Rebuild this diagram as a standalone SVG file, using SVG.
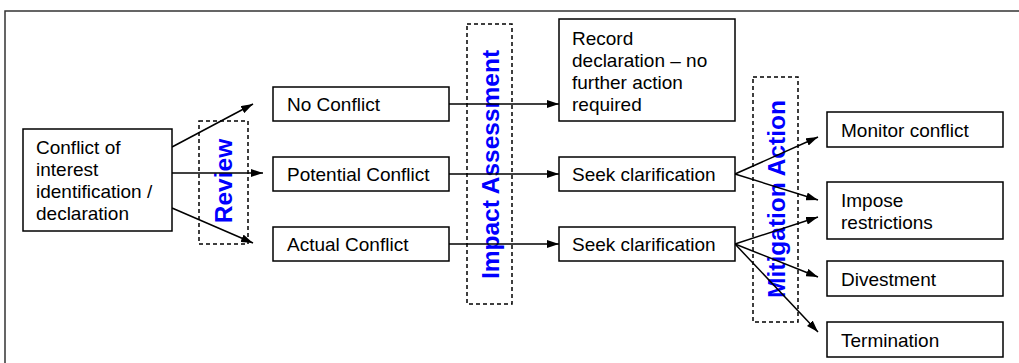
<svg xmlns="http://www.w3.org/2000/svg" width="1019" height="363" viewBox="0 0 1019 363">
<style>
.box{fill:#fff;stroke:#000;stroke-width:1.5}
.dash{fill:none;stroke:#000;stroke-width:1.5;stroke-dasharray:4,3}
.t{font-family:"Liberation Sans",Arial,sans-serif;font-size:19px;fill:#000}
.lbl{font-family:"Liberation Sans",Arial,sans-serif;font-size:24.5px;font-weight:bold;fill:#0000ff;text-anchor:middle}
.con line{stroke:#000;stroke-width:1.5;marker-end:url(#ah)}
</style>
<defs>
<marker id="ah" viewBox="0 0 12 8" markerWidth="12" markerHeight="8" refX="12" refY="4" orient="auto" markerUnits="userSpaceOnUse">
<path d="M0,0 L12,4 L0,8 z" fill="#000"/>
</marker>
</defs>
<rect width="1019" height="363" fill="#fff"/>
<path d="M5,363 V11 H1019" fill="none" stroke="#333" stroke-width="1.5"/>

<g id="phases">
<g id="review"><rect class="dash" x="199" y="121" width="49" height="123"/><text class="lbl" transform="translate(232,181) rotate(-90)">Review</text></g>
<g id="impact"><rect class="dash" x="467" y="24" width="45" height="280"/><text class="lbl" transform="translate(499,164.5) rotate(-90)">Impact Assessment</text></g>
<g id="mitigation"><rect class="dash" x="753" y="77" width="45" height="245"/><text class="lbl" transform="translate(785,199) rotate(-90)">Mitigation Action</text></g>
</g>

<g id="connectors" class="con">
<line x1="172" y1="147" x2="253" y2="104"/>
<line x1="172" y1="173" x2="263" y2="173"/>
<line x1="172" y1="208" x2="253" y2="243"/>
<line x1="449" y1="104" x2="559" y2="104"/>
<line x1="449" y1="174" x2="559" y2="174"/>
<line x1="449" y1="244" x2="559" y2="244"/>
<line x1="735" y1="174" x2="818" y2="137"/>
<line x1="735" y1="174" x2="818" y2="200"/>
<line x1="735" y1="244" x2="818" y2="217"/>
<line x1="735" y1="244" x2="818" y2="277"/>
<line x1="735" y1="244" x2="818" y2="332"/>
</g>

<g id="source"><rect class="box" x="23" y="129" width="149" height="102"/>
<text class="t" x="36" y="154">Conflict of</text>
<text class="t" x="36" y="176">interest</text>
<text class="t" x="36" y="197.5">identification /</text>
<text class="t" x="36" y="219.5">declaration</text></g>

<g id="no-conflict"><rect class="box" x="273" y="87" width="176" height="34"/><text class="t" x="287" y="111">No Conflict</text></g>
<g id="potential-conflict"><rect class="box" x="273" y="157" width="176" height="34"/><text class="t" x="287" y="181">Potential Conflict</text></g>
<g id="actual-conflict"><rect class="box" x="273" y="227" width="176" height="34"/><text class="t" x="287" y="251">Actual Conflict</text></g>

<g id="record"><rect class="box" x="559" y="19" width="176" height="102"/>
<text class="t" x="572" y="44.5">Record</text>
<text class="t" x="572" y="67">declaration – no</text>
<text class="t" x="572" y="89">further action</text>
<text class="t" x="572" y="111">required</text></g>
<g id="seek1"><rect class="box" x="559" y="157" width="176" height="34"/><text class="t" x="572" y="181">Seek clarification</text></g>
<g id="seek2"><rect class="box" x="559" y="227" width="176" height="34"/><text class="t" x="572" y="251">Seek clarification</text></g>

<g id="monitor"><rect class="box" x="827" y="112" width="176" height="35"/><text class="t" x="841" y="137">Monitor conflict</text></g>
<g id="impose"><rect class="box" x="827" y="182" width="176" height="57"/><text class="t" x="841" y="207">Impose</text><text class="t" x="841" y="228.5">restrictions</text></g>
<g id="divestment"><rect class="box" x="827" y="261" width="176" height="35"/><text class="t" x="841" y="286">Divestment</text></g>
<g id="termination"><rect class="box" x="827" y="322" width="176" height="35"/><text class="t" x="841" y="347">Termination</text></g>
</svg>
